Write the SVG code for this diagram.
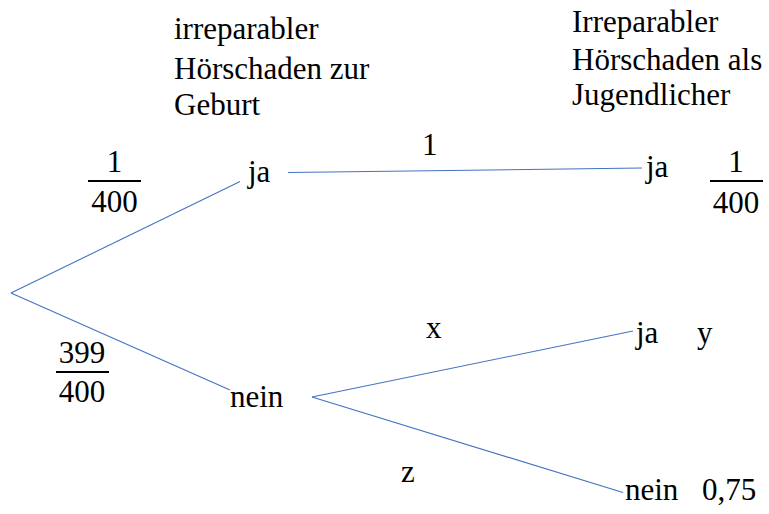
<svg xmlns="http://www.w3.org/2000/svg" width="769" height="514" viewBox="0 0 769 514" font-family="Liberation Serif, Times New Roman, serif" font-size="31">
<style>
.c{text-anchor:middle}
.e{stroke:#4472C4;stroke-width:1.1;fill:none}
.bar{stroke:#000;stroke-width:2.2}
</style>
<rect width="769" height="514" fill="#fff"/>
<g id="connectors">
<line class="e" x1="11" y1="293" x2="240" y2="181.5"/>
<line class="e" x1="11" y1="293" x2="230" y2="390"/>
<line class="e" x1="288" y1="172.5" x2="642" y2="168"/>
<line class="e" x1="312" y1="397" x2="633" y2="331"/>
<line class="e" x1="312" y1="397" x2="623" y2="492.5"/>
</g>
<g id="header-left">
<text x="174" y="39">irreparabler</text>
<text x="174" y="79">Hörschaden zur</text>
<text x="174" y="115">Geburt</text>
</g>
<g id="header-right">
<text x="572" y="32">Irreparabler</text>
<text x="572" y="70">Hörschaden als</text>
<text x="572" y="105">Jugendlicher</text>
</g>
<g id="node-ja1"><text x="248" y="182">ja</text></g>
<g id="node-nein1"><text x="230" y="407">nein</text></g>
<g id="node-ja2"><text x="646" y="177">ja</text></g>
<g id="node-ja3"><text x="636" y="343">ja</text></g>
<g id="node-nein2"><text x="625" y="500">nein</text></g>
<g id="frac-1-400-left">
<text class="c" x="114.5" y="172">1</text>
<line class="bar" x1="88" y1="181" x2="141" y2="181"/>
<text class="c" x="114.5" y="212">400</text>
</g>
<g id="frac-399-400">
<text class="c" x="82" y="363">399</text>
<line class="bar" x1="56" y1="372" x2="109" y2="372"/>
<text class="c" x="82" y="402">400</text>
</g>
<g id="frac-1-400-right">
<text class="c" x="736" y="172">1</text>
<line class="bar" x1="710" y1="181" x2="763" y2="181"/>
<text class="c" x="736" y="213">400</text>
</g>
<g id="labels">
<text x="422" y="155">1</text>
<text x="426" y="338">x</text>
<text x="697" y="343">y</text>
<text x="401" y="482">z</text>
<text x="702" y="500">0,75</text>
</g>
</svg>
